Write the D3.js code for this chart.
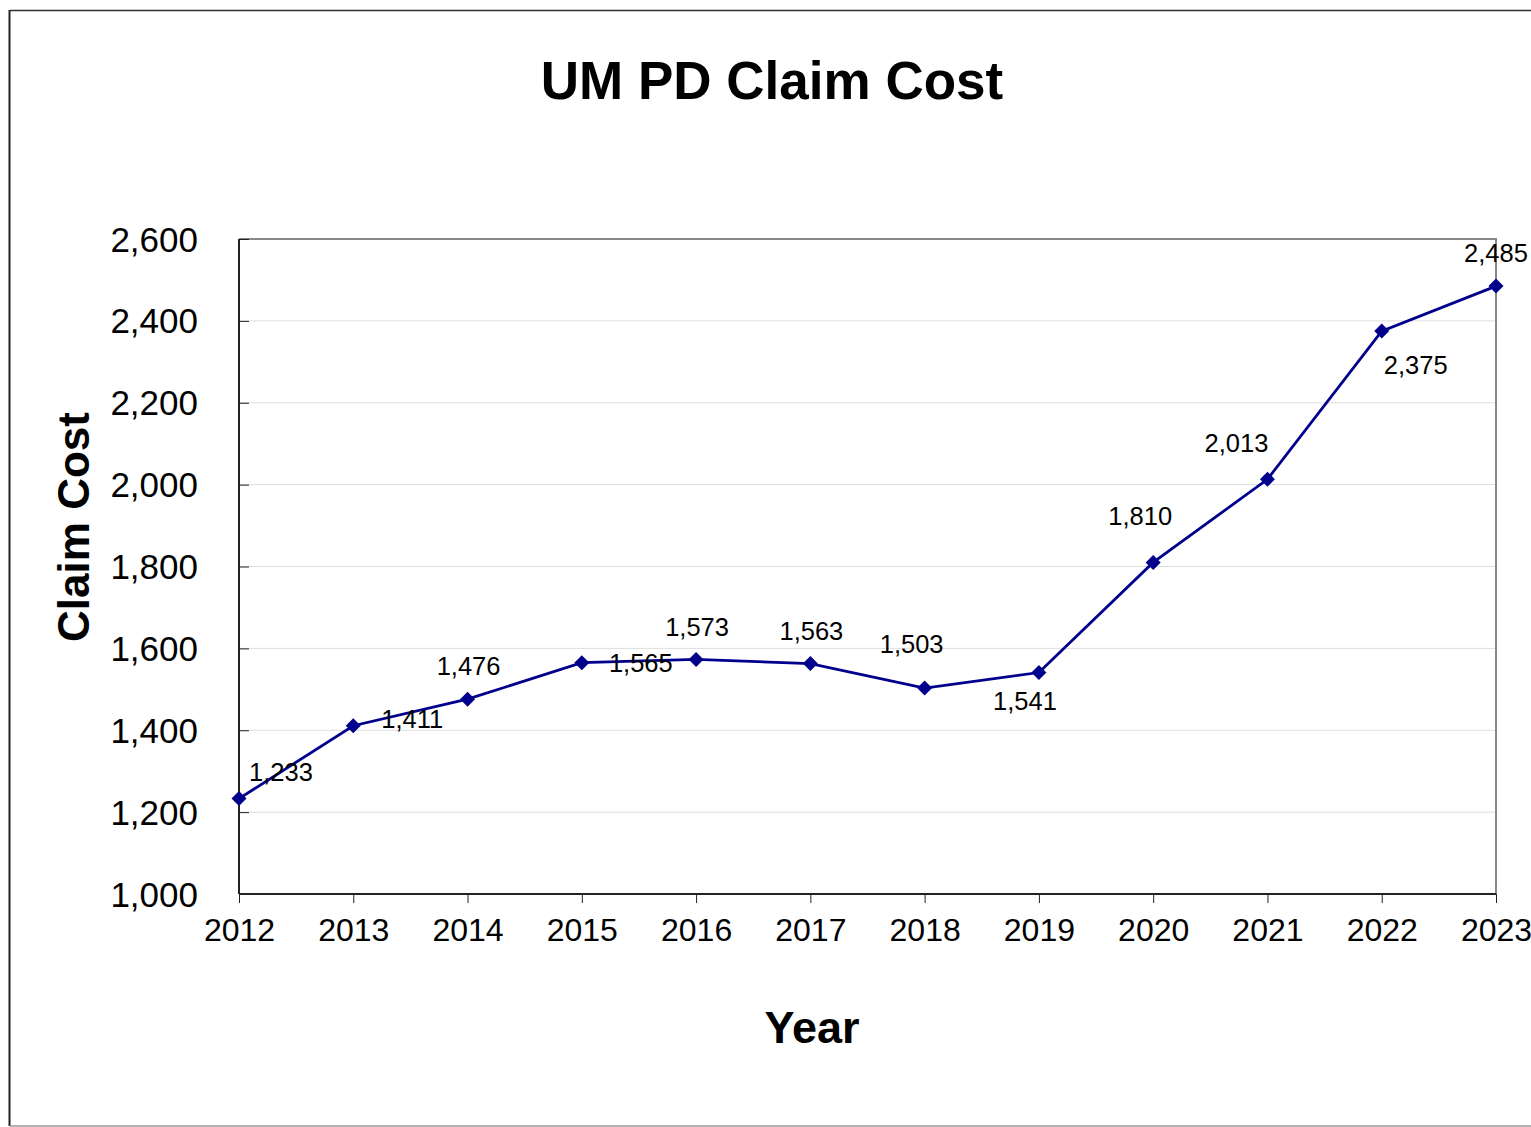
<!DOCTYPE html>
<html><head><meta charset="utf-8">
<script src="https://cdn.jsdelivr.net/npm/d3@7"></script>
<style>body{margin:0;background:#fff}svg{display:block}text{font-family:"Liberation Sans",Arial,sans-serif}</style>
</head><body>
<script>
const years = [2012,2013,2014,2015,2016,2017,2018,2019,2020,2021,2022,2023];
const claimCost = [1233,1411,1476,1565,1573,1563,1503,1541,1810,2013,2375,2485];
const yTicks = [1000,1200,1400,1600,1800,2000,2200,2400,2600];
// label placement relative to point: [dx, dy]
const labelOffsets = [[42,-27],[59,-7],[1,-33],[59,0],[1,-33],[1,-33],[-13,-44],[-14,28],[-13,-47],[-31,-36],[34,34],[0,-33]];

const W=1531,H=1127;
const svg=d3.select("body").append("svg").attr("width",W).attr("height",H);
const m={l:239,r:1496,t:239,b:894};
const x=d3.scalePoint().domain(years).range([m.l,m.r]);
const y=d3.scaleLinear().domain([1000,2600]).range([m.b,m.t]);

// outer frame
svg.append("line").attr("x1",10).attr("x2",W).attr("y1",10.5).attr("y2",10.5).attr("stroke","#333").attr("stroke-width",1.5);
svg.append("line").attr("x1",9.5).attr("x2",9.5).attr("y1",10).attr("y2",1126).attr("stroke","#222").attr("stroke-width",2);
svg.append("line").attr("x1",10).attr("x2",W).attr("y1",1126).attr("y2",1126).attr("stroke","#999").attr("stroke-width",1.5);

// gridlines
svg.append("g").selectAll("line").data(yTicks.slice(1,-1)).join("line")
  .attr("x1",m.l).attr("x2",m.r).attr("y1",d=>y(d)).attr("y2",d=>y(d))
  .attr("stroke","#ddd").attr("stroke-width",1);
// plot border top/right
svg.append("path").attr("d",`M${m.l},${m.t}H${m.r}V${m.b}`).attr("fill","none").attr("stroke","#888").attr("stroke-width",2);

// y axis
const ya=svg.append("g").attr("transform",`translate(${m.l},0)`)
  .call(d3.axisRight(y).tickValues(yTicks).tickSize(10).tickFormat(""));
ya.select(".domain").remove();
ya.selectAll("line").attr("stroke","#222");
svg.append("line").attr("x1",m.l).attr("x2",m.l).attr("y1",m.t).attr("y2",m.b).attr("stroke","#222").attr("stroke-width",2);
svg.append("g").selectAll("text").data(yTicks).join("text")
  .attr("x",m.l-41).attr("y",d=>y(d)).attr("dy","0.36em").attr("text-anchor","end")
  .attr("font-size",35).text(d3.format(","));

// x axis
const xa=svg.append("g").attr("transform",`translate(0,${m.b})`)
  .call(d3.axisBottom(x).tickSize(9).tickPadding(15).tickFormat(d=>d));
xa.select(".domain").attr("stroke","#222").attr("stroke-width",2).attr("d",`M${m.l},0H${m.r}`);
xa.selectAll("line").attr("stroke","#222");
xa.selectAll("text").attr("font-size",32).attr("fill","#000").attr("font-family","Liberation Sans, Arial, sans-serif");

// line
const pts=years.map((yr,i)=>({yr,v:claimCost[i],i}));
svg.append("path").datum(pts).attr("fill","none").attr("stroke","#00008c").attr("stroke-width",2.8)
  .attr("d",d3.line().x(d=>x(d.yr)).y(d=>y(d.v)));
svg.append("g").selectAll("path").data(pts).join("path")
  .attr("transform",d=>`translate(${x(d.yr)},${y(d.v)})`)
  .attr("d","M0,-7.5L7.5,0L0,7.5L-7.5,0Z").attr("fill","#00008c");
svg.append("g").selectAll("text").data(pts).join("text")
  .attr("x",d=>x(d.yr)+labelOffsets[d.i][0]).attr("y",d=>y(d.v)+labelOffsets[d.i][1])
  .attr("dy","0.36em").attr("text-anchor","middle").attr("font-size",25.5)
  .text(d=>d3.format(",")(d.v));

// titles
svg.append("text").attr("x",772).attr("y",80).attr("dy","0.36em").attr("text-anchor","middle")
  .attr("font-size",53).attr("font-weight","bold").text("UM PD Claim Cost");
svg.append("text").attr("x",812).attr("y",1027).attr("dy","0.36em").attr("text-anchor","middle")
  .attr("font-size",45).attr("font-weight","bold").text("Year");
svg.append("text").attr("transform","translate(73,527) rotate(-90)").attr("dy","0.36em").attr("text-anchor","middle")
  .attr("font-size",44).attr("font-weight","bold").text("Claim Cost");
</script>
</body></html>
